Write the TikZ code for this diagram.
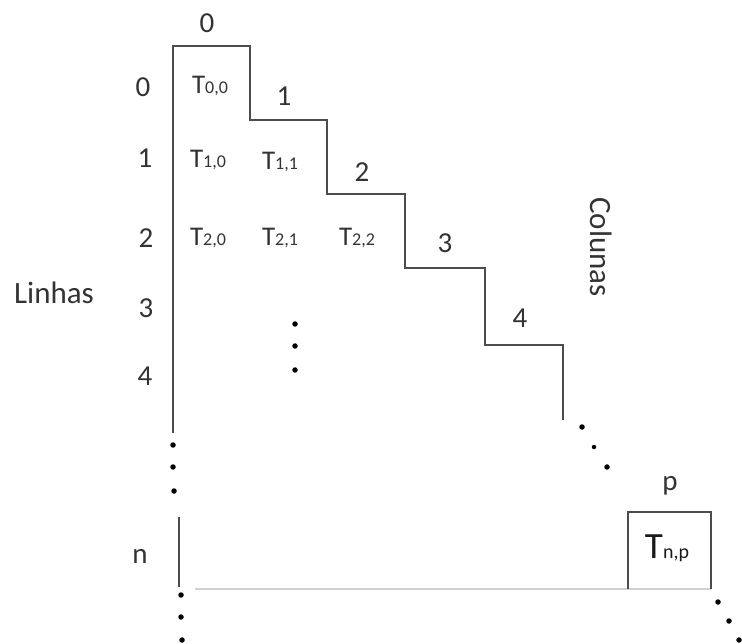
\documentclass[tikz,border=0pt]{standalone}
\usepackage{fontspec}
\setmainfont{Carlito}
\begin{document}
\begin{tikzpicture}[x=1pt,y=-1pt,
  lbl/.style={text=black!80, font=\fontsize{29}{29}\selectfont, inner sep=0pt},
  big/.style={text=black!80, font=\fontsize{31}{31}\selectfont, inner sep=0pt},
  cell/.style={text=black!80, font=\fontsize{27}{27}\selectfont, inner sep=0pt},
  stair/.style={draw=black!70, line width=1.4pt},
  floor/.style={draw=black!18, line width=2pt},
  pt/.style={fill=black, circle, inner sep=0pt, minimum size=5.5pt}]
\useasboundingbox (0,0) rectangle (742,644);
\newcommand{\sbs}[1]{{\fontsize{18}{18}\selectfont #1}}
% staircase
\coordinate (s0) at (173,433);
\coordinate (s1) at (173,46);
\coordinate (s2) at (250,46);
\coordinate (s3) at (250,120);
\coordinate (s4) at (327,120);
\coordinate (s5) at (327,194);
\coordinate (s6) at (405,194);
\coordinate (s7) at (405,268);
\coordinate (s8) at (485,268);
\coordinate (s9) at (485,345);
\coordinate (s10) at (563,345);
\coordinate (s11) at (563,420);
\draw[stair] (s0) -- (s1) -- (s2) -- (s3) -- (s4) -- (s5) -- (s6) -- (s7) -- (s8) -- (s9) -- (s10) -- (s11);
% lower left segment
\coordinate (l1) at (179,517);
\coordinate (l2) at (179,587);
\draw[stair] (l1) -- (l2);
% floor line and box
\coordinate (f1) at (195,589);
\coordinate (f2) at (711,589);
\draw[floor] (f1) -- (f2);
\coordinate (b1) at (628,589);
\coordinate (b2) at (628,512);
\coordinate (b3) at (711,512);
\coordinate (b4) at (711,589);
\draw[stair] (b1) -- (b2) -- (b3) -- (b4);
% column labels
\node[lbl] (c0) at (207,23) {0};
\node[lbl] (c1) at (284,96) {1};
\node[lbl] (c2) at (362,172) {2};
\node[lbl] (c3) at (445,243) {3};
\node[lbl] (c4) at (520,318) {4};
\node[lbl] (cp) at (670,486) {p};
% row labels
\node[lbl] (r0) at (143,87) {0};
\node[lbl] (r1) at (145,158) {1};
\node[lbl] (r2) at (146,238) {2};
\node[lbl] (r3) at (146,308) {3};
\node[lbl] (r4) at (145,376) {4};
\node[lbl] (rn) at (140,556) {n};
% axis titles
\node[big] (linhas) at (54,293) {Linhas};
\node[big, rotate=-90] (colunas) at (601,247) {Colunas};
% cells
\node[cell] (t00) at (210,86) {T\sbs{0,0}};
\node[cell] (t10) at (208,160) {T\sbs{1,0}};
\node[cell] (t11) at (280,162) {T\sbs{1,1}};
\node[cell] (t20) at (208,238) {T\sbs{2,0}};
\node[cell] (t21) at (280,238) {T\sbs{2,1}};
\node[cell] (t22) at (357,238) {T\sbs{2,2}};
\node[text=black!90, inner sep=0pt, font=\fontsize{37}{37}\selectfont] (tnp) at (667,548) {T{\fontsize{20}{20}\selectfont n,p}};
% dots
\node[pt] (d1) at (173,445) {};
\node[pt] (d2) at (173,467) {};
\node[pt] (d3) at (174,491) {};
\node[pt] (d4) at (181,595) {};
\node[pt] (d5) at (181,617) {};
\node[pt] (d6) at (182,640) {};
\node[pt] (d7) at (295,324) {};
\node[pt] (d8) at (295,346) {};
\node[pt] (d9) at (295,370) {};
\node[pt] (d10) at (582,427) {};
\node[pt, minimum size=4.5pt] (d11) at (594,447) {};
\node[pt] (d12) at (607,467) {};
\node[pt] (d13) at (718,602) {};
\node[pt] (d14) at (729,621) {};
\node[pt] (d15) at (739,640) {};
\end{tikzpicture}
\end{document}
